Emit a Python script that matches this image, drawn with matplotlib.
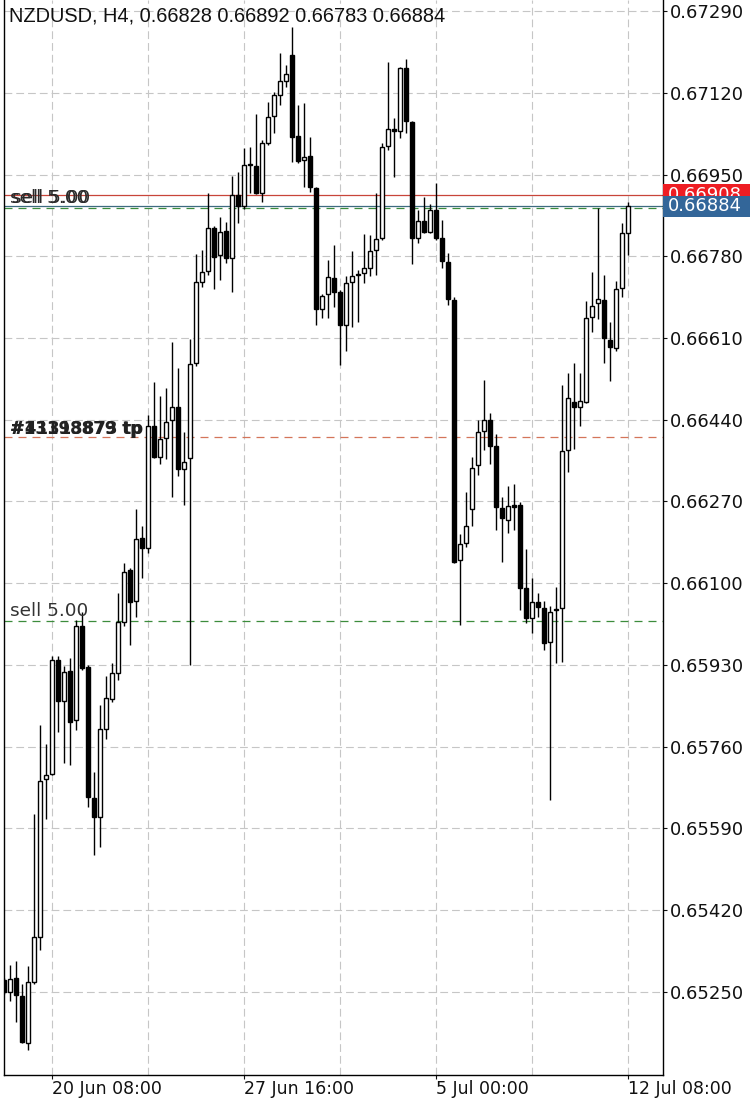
import matplotlib
matplotlib.use("Agg")
from matplotlib import pyplot as plt
from matplotlib import transforms
from matplotlib.patches import Rectangle

# NZDUSD H4 candles (oldest first)
opens = [
    0.65275, 0.65249, 0.65278, 0.65242, 0.65143, 0.65270, 0.65365, 0.65692, 0.65703, 0.65940,
    0.65854, 0.65918, 0.65816, 0.66010, 0.65926, 0.65653, 0.65613, 0.65796, 0.65859, 0.65914,
    0.66019, 0.66128, 0.66062, 0.66193, 0.66173, 0.66426, 0.66362, 0.66401, 0.66440, 0.66467,
    0.66337, 0.66360, 0.66557, 0.66727, 0.66750, 0.66838, 0.66783, 0.66833, 0.66776, 0.66907,
    0.66885, 0.66971, 0.66968, 0.66912, 0.67016, 0.67072, 0.67115, 0.67144, 0.67199, 0.67031,
    0.66980, 0.66988, 0.66921, 0.66670, 0.66701, 0.66734, 0.66705, 0.66638, 0.66726, 0.66744,
    0.66745, 0.66756, 0.66794, 0.66817, 0.67009, 0.67044, 0.67041, 0.67171, 0.67060, 0.66819,
    0.66854, 0.66831, 0.66876, 0.66819, 0.66769, 0.66688, 0.66148, 0.66184, 0.66255, 0.66345,
    0.66417, 0.66439, 0.66385, 0.66256, 0.66232, 0.66263, 0.66263, 0.66090, 0.66027, 0.66060,
    0.66048, 0.65978, 0.66046, 0.66048, 0.66377, 0.66476, 0.66466, 0.66477, 0.66653, 0.66682,
    0.66689, 0.66606, 0.66589, 0.66713, 0.66828]
highs = [
    0.65279, 0.65306, 0.65315, 0.65266, 0.65303, 0.65620, 0.65805, 0.65766, 0.65949, 0.65949,
    0.65928, 0.65944, 0.66024, 0.66040, 0.65930, 0.65708, 0.65847, 0.65907, 0.65934, 0.66079,
    0.66141, 0.66132, 0.66254, 0.66218, 0.66450, 0.66519, 0.66489, 0.66505, 0.66602, 0.66547,
    0.66415, 0.66607, 0.66785, 0.66793, 0.66912, 0.66843, 0.66862, 0.66852, 0.66947, 0.66956,
    0.67006, 0.67008, 0.67075, 0.67022, 0.67101, 0.67122, 0.67202, 0.67178, 0.67257, 0.67094,
    0.67098, 0.67029, 0.66924, 0.66702, 0.66772, 0.66803, 0.66710, 0.66738, 0.66790, 0.66751,
    0.66826, 0.66824, 0.66912, 0.67015, 0.67185, 0.67067, 0.67174, 0.67190, 0.67061, 0.66876,
    0.66904, 0.66889, 0.66933, 0.66856, 0.66787, 0.66696, 0.66203, 0.66289, 0.66362, 0.66439,
    0.66523, 0.66454, 0.66410, 0.66279, 0.66303, 0.66306, 0.66269, 0.66172, 0.66110, 0.66079,
    0.66062, 0.66053, 0.66093, 0.66512, 0.66538, 0.66559, 0.66538, 0.66686, 0.66748, 0.66880,
    0.66741, 0.66644, 0.66729, 0.66849, 0.66892]
lows = [
    0.65246, 0.65230, 0.65188, 0.65143, 0.65128, 0.65266, 0.65337, 0.65610, 0.65701, 0.65791,
    0.65727, 0.65721, 0.65795, 0.65920, 0.65635, 0.65535, 0.65551, 0.65775, 0.65853, 0.65899,
    0.66011, 0.65972, 0.66030, 0.66110, 0.66162, 0.66360, 0.66348, 0.66358, 0.66279, 0.66323,
    0.66263, 0.65930, 0.66552, 0.66717, 0.66741, 0.66711, 0.66731, 0.66765, 0.66706, 0.66850,
    0.66878, 0.66911, 0.66910, 0.66893, 0.67011, 0.67036, 0.67094, 0.67133, 0.66977, 0.66974,
    0.66925, 0.66914, 0.66637, 0.66651, 0.66651, 0.66675, 0.66554, 0.66582, 0.66632, 0.66644,
    0.66724, 0.66738, 0.66741, 0.66814, 0.67001, 0.66944, 0.67025, 0.67037, 0.66763, 0.66808,
    0.66828, 0.66828, 0.66814, 0.66756, 0.66679, 0.66142, 0.66014, 0.66176, 0.66219, 0.66326,
    0.66376, 0.66347, 0.66211, 0.66145, 0.66205, 0.66211, 0.66044, 0.66018, 0.65996, 0.66030,
    0.65961, 0.65649, 0.65934, 0.65937, 0.66332, 0.66379, 0.66427, 0.66474, 0.66623, 0.66649,
    0.66557, 0.66521, 0.66582, 0.66695, 0.66783]
closes = [
    0.65250, 0.65276, 0.65244, 0.65145, 0.65270, 0.65364, 0.65689, 0.65701, 0.65940, 0.65854,
    0.65915, 0.65812, 0.66010, 0.65924, 0.65655, 0.65613, 0.65797, 0.65861, 0.65913, 0.66019,
    0.66124, 0.66060, 0.66191, 0.66173, 0.66426, 0.66362, 0.66399, 0.66436, 0.66467, 0.66337,
    0.66351, 0.66556, 0.66727, 0.66748, 0.66838, 0.66779, 0.66831, 0.66776, 0.66907, 0.66885,
    0.66970, 0.66969, 0.66912, 0.67015, 0.67070, 0.67115, 0.67144, 0.67160, 0.67029, 0.66979,
    0.66987, 0.66925, 0.66670, 0.66697, 0.66736, 0.66706, 0.66638, 0.66724, 0.66738, 0.66741,
    0.66755, 0.66791, 0.66815, 0.67007, 0.67044, 0.67040, 0.67171, 0.67061, 0.66819, 0.66854,
    0.66831, 0.66876, 0.66819, 0.66770, 0.66691, 0.66145, 0.66181, 0.66219, 0.66340, 0.66414,
    0.66440, 0.66385, 0.66258, 0.66236, 0.66260, 0.66258, 0.66090, 0.66028, 0.66060, 0.66051,
    0.65976, 0.66041, 0.66045, 0.66374, 0.66485, 0.66466, 0.66479, 0.66651, 0.66677, 0.66691,
    0.66609, 0.66591, 0.66711, 0.66828, 0.66884]

symbol_text = "NZDUSD, H4, 0.66828 0.66892 0.66783 0.66884"

date_ticks = [8, 40, 72, 104]
date_labels = ["20 Jun 08:00", "27 Jun 16:00", "5 Jul 00:00", "12 Jul 08:00"]
minor_ticks = [24, 56, 88]
price_ticks = [0.65250, 0.65420, 0.65590, 0.65760, 0.65930, 0.66100, 0.66270,
               0.66440, 0.66610, 0.66780, 0.66950, 0.67120, 0.67290]

ask_price = 0.66908
bid_price = 0.66884
sell_levels = [0.66881, 0.66022]
sell_labels = ["sell 5.00", "sell 5.00"]
tp_level = 0.66404
tp_labels = ["#13198879 tp", "#41313873 tp"]


fig = plt.figure(figsize=(7.5, 11), dpi=100)
ax = fig.add_axes([4 / 750, 25 / 1100, 658.5 / 750, 1075 / 1100])

ax.set_xlim(-0.05, 109.7)
ax.set_ylim(0.65077, 0.67313)

# grid
ax.set_yticks(price_ticks)
ax.set_yticklabels([f"{p:.5f}" for p in price_ticks])
ax.set_xticks(date_ticks)
ax.set_xticklabels(date_labels, ha="left")
ax.set_xticks(minor_ticks, minor=True)
ax.grid(True, which="both", color="#c6c6c6", lw=0.8, linestyle=(0, (7, 3.6)), zorder=0)
ax.set_axisbelow(True)

ax.yaxis.tick_right()
ax.tick_params(axis="y", direction="out", length=3, width=0.8, pad=2,
               labelsize=13, colors="#111111")
ax.tick_params(axis="x", which="major", direction="out", length=3, width=0.8,
               pad=0.8, labelsize=12.5, colors="#111111")
ax.tick_params(axis="x", which="minor", length=0)

for side in ["left", "right", "bottom"]:
    ax.spines[side].set_color("black")
    ax.spines[side].set_linewidth(1.0)
ax.spines["top"].set_visible(False)

# order / price lines
ax.axhline(ask_price, color="#c8453a", lw=0.9, zorder=2)
ax.axhline(bid_price, color="#3d6b80", lw=0.9, zorder=2)
for lvl in sell_levels:
    ax.axhline(lvl, color="#3c8c3c", lw=0.9, linestyle=(0, (6.4, 4.8)), zorder=2)
ax.axhline(tp_level, color="#d4755a", lw=0.9, linestyle=(0, (6.4, 4.8)), zorder=2)

# candles
xs = list(range(len(opens)))
ax.vlines(xs, lows, highs, color="black", lw=1.0, zorder=3)
body_w = 0.64
for i in xs:
    o, c = opens[i], closes[i]
    face = "white" if c >= o else "black"
    ax.add_patch(Rectangle((i - body_w / 2, min(o, c)), body_w, max(abs(c - o), 0.000012),
                           facecolor=face, edgecolor="black", lw=1.0, zorder=4))

# labels on the order lines
mixed = (ax.transAxes, ax.transData)
for dx in [0, 1.2]:
    ax.annotate(sell_labels[0], xy=(6 / 658.5, sell_levels[0]), xycoords=mixed,
                xytext=(dx, 3.3), textcoords="offset points", va="baseline",
                fontsize=13.3, color="#2a2a2a", zorder=6)
ax.annotate(sell_labels[1], xy=(6 / 658.5, sell_levels[1]), xycoords=mixed,
            xytext=(0, 3.5), textcoords="offset points", va="baseline",
            fontsize=13.3, color="#333333", zorder=6)
for k, lab in enumerate(tp_labels):
    ax.annotate(lab, xy=(6 / 658.5, tp_level), xycoords=mixed,
                xytext=(k * 0.8, 2.2), textcoords="offset points", va="baseline",
                fontsize=12, fontweight="bold", color="#222222", zorder=6)

# price boxes on the right
trans = transforms.blended_transform_factory(ax.transAxes, ax.transData)
box_h = 0.00044
z = 7
for price, color in [(ask_price, "#ee1d23"), (bid_price, "#336699")]:
    ax.add_patch(Rectangle((1.0, price - box_h / 2), 0.14, box_h, transform=trans,
                           facecolor=color, edgecolor="none", clip_on=False, zorder=z))
    ax.text(1.0085, price, f"{price:.5f}", transform=trans, color="white", va="center",
            ha="left", fontsize=13, clip_on=False, zorder=z + 1)
    z += 2

fig.text(9 / 750, 1 - 16 / 1100, symbol_text, fontsize=14.4, family="Liberation Sans",
         va="center", ha="left", color="#111111")

fig.savefig("out.png", dpi=100)
